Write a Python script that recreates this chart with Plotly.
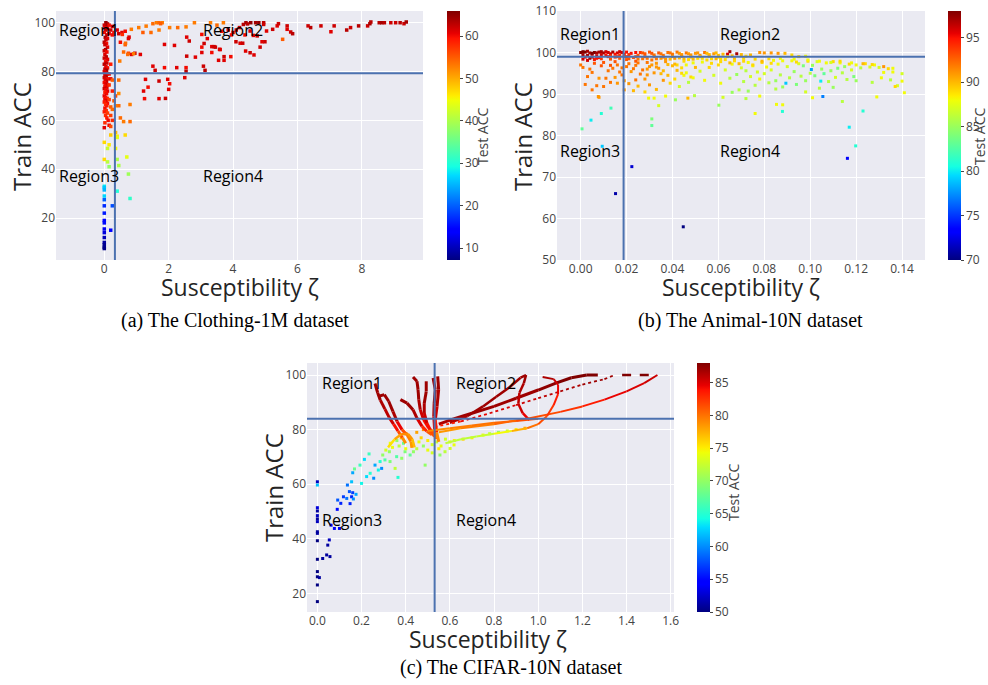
import plotly.graph_objects as go
from plotly.colors import sample_colorscale

# ---------------------------------------------------------------- data
# (susceptibility, train acc, test acc)
CLOTHING_COLUMN = [
    (0.05, 100, 65), (0.10, 99.5, 64), (0.00, 99, 62), (0.08, 98.5, 64), (0.02, 98, 61), (0.10, 97.5, 62),
    (0.04, 97, 63), (0.00, 96, 60), (0.08, 95, 62), (0.03, 94, 64), (0.10, 93.5, 61), (0.05, 93, 62),
    (0.00, 92, 63), (0.07, 91.5, 60), (0.02, 91, 62), (0.10, 90, 61), (0.04, 89, 64), (0.00, 88.5, 62),
    (0.08, 88, 60), (0.02, 87, 61), (0.06, 86, 63), (0.00, 85.5, 62), (0.10, 85, 61), (0.04, 84, 60),
    (0.08, 83.5, 62), (0.00, 83, 63), (0.05, 82, 61), (0.10, 81.5, 60), (0.02, 81, 62), (0.07, 80.5, 64),
    (0.00, 80, 61), (0.04, 79.5, 62), (0.09, 79, 60), (0.02, 78.5, 61), (0.06, 78, 63), (0.00, 77.5, 62),
    (0.10, 77, 60), (0.03, 76.5, 61), (0.07, 76, 62), (0.00, 75.5, 60), (0.05, 75, 61), (0.10, 74.5, 62),
    (0.02, 74, 60), (0.08, 73.5, 61), (0.00, 73, 62), (0.05, 72.5, 60), (0.10, 72, 61), (0.02, 71.5, 59),
    (0.07, 71, 60), (0.00, 70, 61), (0.04, 69.5, 60), (0.09, 69, 59), (0.02, 68.5, 60), (0.06, 68, 61),
    (0.00, 67.5, 59), (0.10, 67, 60), (0.04, 66.5, 58), (0.08, 66, 59), (0.02, 65, 60), (0.06, 64, 58),
    (0.00, 63.5, 59), (0.10, 63, 57), (0.04, 62, 58), (0.08, 61, 59), (0.12, 60, 60), (0.02, 59, 58),
    (0.15, 58, 60), (0.00, 57, 61),
]
CLOTHING_NEAR = [
    (0.15, 99, 60), (0.25, 98.5, 61), (0.20, 97, 62), (0.30, 96, 60), (0.15, 95.5, 61), (0.25, 95, 60),
    (0.45, 95.5, 62), (0.55, 96, 61), (0.65, 96.5, 60), (0.40, 97, 61), (0.75, 93.5, 61), (0.50, 92, 60),
    (0.65, 91, 55), (0.85, 87, 61), (0.95, 87.5, 62), (0.75, 87.5, 56), (0.60, 88, 54), (0.20, 83, 59),
    (0.15, 79, 60), (0.20, 77, 61), (0.25, 76.5, 55), (0.45, 76.5, 54), (0.15, 74.5, 58), (0.25, 72, 59),
    (0.35, 70, 56), (0.45, 71, 52), (0.15, 68.5, 57), (0.30, 68, 55), (0.45, 66, 54), (0.35, 66, 53),
    (0.20, 65.5, 55), (0.25, 64.5, 54), (0.20, 62, 57), (0.25, 60, 58), (0.50, 61, 54), (0.60, 59.5, 53),
    (0.80, 59.5, 54), (0.80, 66.5, 53), (0.20, 57.5, 56), (0.48, 84.3, 53), (0.56, 95.2, 58),
    (0.66, 91.6, 54), (0.73, 87, 54), (0.91, 87.3, 53), (0.77, 94.1, 61),
]
CLOTHING_LOW = [
    (0.00, 51, 47), (0.15, 50, 46), (0.20, 54, 48), (0.35, 55, 49), (0.40, 53.5, 46), (0.65, 54, 47),
    (0.35, 48.5, 45), (0.10, 48.5, 42), (0.00, 44, 47), (0.10, 43, 41), (0.40, 44, 40), (0.70, 45, 44),
    (0.15, 41, 38), (0.45, 41.5, 40), (0.75, 38, 39), (0.40, 53, 44),
    (0.00, 33, 28), (0.00, 32.5, 26), (0.00, 29, 27), (0.40, 31, 30), (0.80, 28, 31), (0.00, 27.5, 20),
    (0.00, 25, 17), (0.25, 25, 19), (0.00, 22, 16), (0.00, 19, 14), (0.00, 18, 15), (0.00, 15.5, 13),
    (0.00, 14, 12), (0.20, 15, 14), (0.00, 10, 9), (0.00, 9, 8), (0.00, 8, 8), (0.00, 7.5, 7.5),
    (0.00, 12, 10), (0.00, 31.5, 25),
]
CLOTHING_SPREAD = [
    (0.84, 97.3, 53), (1.07, 98, 53), (1.30, 98.6, 53), (1.51, 99.6, 54), (1.62, 100, 53), (1.70, 100, 54),
    (1.80, 100, 53), (1.75, 99.6, 55), (2.03, 98, 53), (2.28, 98, 54), (2.54, 98.3, 53), (2.80, 100, 53),
    (3.30, 100, 53), (3.70, 100, 53), (3.50, 99, 54), (1.20, 96, 55), (1.45, 96, 54), (1.70, 97, 53),
    (1.12, 87, 61), (1.51, 82.2, 61), (1.58, 80.5, 62), (1.87, 81.6, 60), (2.25, 81.6, 61), (2.54, 81.6, 60),
    (2.54, 80.1, 63), (1.28, 76.8, 61), (1.36, 73.6, 60), (1.22, 72, 61), (1.25, 68.9, 60), (1.70, 76.1, 62),
    (1.97, 76.8, 61), (2.03, 75, 60), (2.00, 72.7, 61), (1.90, 69, 62), (1.70, 68.9, 61), (1.87, 91.1, 61),
    (2.18, 90.7, 61), (2.56, 86.3, 62), (2.83, 85.9, 61), (3.03, 90, 60), (3.03, 87.8, 61), (2.64, 92.5, 62),
    (2.56, 94.1, 61), (3.03, 95.2, 60), (3.08, 82.2, 62), (3.13, 80.5, 63), (3.34, 90.2, 61), (3.41, 90.2, 62),
    (3.58, 89.1, 61), (3.34, 87.8, 60), (3.55, 84.6, 61), (3.72, 86.1, 62), (3.72, 84.6, 61), (3.93, 86.1, 60),
    (2.50, 77.5, 61), (4.09, 92.2, 62), (4.22, 91.6, 61), (4.30, 91.6, 62), (4.39, 88.4, 61), (4.53, 87.7, 62),
    (4.65, 86.8, 61), (4.84, 90, 62), (4.90, 92.2, 61), (4.99, 92.2, 62), (4.63, 94.8, 61), (4.75, 94.6, 62),
    (4.37, 95, 60), (4.53, 96.6, 61), (4.32, 99.3, 63), (4.40, 100, 64), (4.55, 100, 65), (4.70, 100, 64),
    (4.80, 100, 65), (4.95, 100, 63), (4.95, 99.3, 62), (5.04, 96.6, 61), (5.23, 97.3, 62), (5.37, 98.7, 61),
    (5.41, 99.6, 62), (5.54, 93.2, 55), (5.68, 98.7, 62), (5.68, 97.3, 61), (5.79, 96.2, 62), (5.85, 95.5, 63),
    (6.33, 98.7, 62), (6.41, 98, 63), (6.73, 98.7, 62), (7.04, 96.3, 61), (7.14, 98.7, 62), (7.53, 97, 63),
    (7.65, 98, 62), (7.90, 98.7, 63), (8.18, 98.7, 62), (8.25, 99.6, 64), (8.28, 100.3, 63), (8.54, 100, 63),
    (8.62, 100, 64), (8.70, 100, 63), (8.90, 100, 62), (9.05, 100, 62), (9.19, 100, 63), (9.31, 99.6, 62),
    (9.38, 100.3, 64), (3.20, 93.5, 61), (3.10, 91.5, 62), (3.60, 89, 61), (3.45, 90, 62), (3.85, 97, 61),
    (3.65, 96.5, 60), (4.00, 96, 61), (4.10, 97, 62), (3.95, 95, 60), (4.45, 99.5, 63), (4.20, 98, 62),
]

ANIMAL_TOP = [
    (0.000, 100.0, 98), (0.002, 100.1, 98), (0.004, 99.9, 97), (0.006, 100.0, 98), (0.008, 100.1, 97),
    (0.010, 99.9, 97), (0.012, 100.0, 96), (0.014, 100.1, 97), (0.016, 99.9, 96), (0.018, 100.0, 96),
    (0.001, 99.5, 97), (0.003, 99.3, 97), (0.005, 99.6, 96), (0.007, 99.2, 96), (0.009, 99.5, 96),
    (0.011, 99.4, 95), (0.002, 98.9, 96), (0.004, 98.6, 97), (0.006, 98.3, 95), (0.003, 98.1, 96),
    (0.008, 98.8, 95), (0.020, 100.1, 95), (0.022, 99.8, 95), (0.024, 100.0, 95), (0.065, 100.2, 97),
    (0.064, 99.6, 96), (0.068, 99.7, 97), (0.001, 100.2, 98), (0.003, 100.3, 97), (0.005, 99.8, 98),
    (0.007, 99.9, 97), (0.009, 100.2, 97), (0.011, 100.2, 96), (0.013, 99.7, 96), (0.015, 99.6, 95),
    (0.017, 100.2, 96), (0.019, 99.6, 95), (0.001, 98.4, 96), (0.005, 98.9, 97), (0.007, 98.6, 95),
    (0.013, 99.2, 94), (0.015, 98.9, 94), (0.017, 99.4, 94), (0.019, 99.1, 93), (0.021, 99.5, 94),
    (0.023, 98.8, 93), (0.025, 99.3, 93), (0.026, 100.0, 94), (0.028, 99.7, 93), (0.030, 100.1, 93),
    (0.032, 99.4, 92), (0.034, 99.9, 93), (0.036, 99.3, 92), (0.038, 100.0, 92), (0.040, 99.6, 92),
    (0.042, 100.1, 92), (0.044, 99.5, 91), (0.046, 99.9, 92), (0.048, 99.4, 91), (0.050, 99.8, 91),
    (0.052, 99.3, 91), (0.054, 100.0, 92), (0.056, 99.5, 90), (0.058, 99.7, 91), (0.060, 99.3, 90),
    (0.062, 99.6, 90), (0.066, 99.2, 90), (0.070, 99.5, 90), (0.072, 99.1, 89), (0.074, 99.4, 90),
    (0.078, 100.0, 91), (0.080, 99.9, 91), (0.083, 99.9, 91), (0.086, 99.8, 91), (0.089, 99.8, 90),
    (0.092, 99.4, 89), (0.095, 99.0, 89), (0.098, 99.1, 88),
    (0.027, 99.9, 93), (0.031, 99.8, 93), (0.035, 99.7, 92), (0.039, 99.9, 92), (0.043, 99.8, 91),
    (0.047, 99.7, 91), (0.051, 99.9, 91), (0.055, 99.8, 90), (0.059, 99.9, 90),
    (0.012, 99.0, 95), (0.016, 99.0, 94), (0.020, 99.0, 94), (0.024, 99.0, 93), (0.028, 99.0, 93),
    (0.032, 99.0, 92), (0.036, 98.9, 92), (0.040, 99.0, 91), (0.044, 99.1, 91), (0.048, 98.9, 90),
    (0.052, 99.0, 90), (0.056, 99.1, 90), (0.060, 98.9, 89), (0.064, 99.0, 89),
    (0.009, 98.5, 94), (0.013, 98.4, 93), (0.017, 98.6, 93), (0.021, 98.5, 93), (0.025, 98.4, 92),
    (0.029, 98.6, 92), (0.033, 98.5, 92), (0.037, 98.4, 91), (0.041, 98.6, 91), (0.045, 98.5, 90),
    (0.049, 98.4, 90), (0.053, 98.6, 89), (0.057, 98.5, 89), (0.061, 98.4, 89), (0.067, 98.5, 90),
    (0.071, 98.6, 89), (0.076, 98.4, 89), (0.082, 98.5, 89), (0.087, 98.6, 88), (0.093, 98.4, 88),
    (0.020, 98.3, 93), (0.024, 97.9, 93), (0.027, 98.5, 92), (0.029, 97.6, 92), (0.031, 98.2, 92),
    (0.033, 97.4, 91), (0.035, 98.6, 91), (0.037, 97.8, 91), (0.039, 98.4, 90), (0.041, 97.2, 90),
    (0.043, 98.7, 90), (0.045, 97.9, 89), (0.047, 98.3, 89), (0.049, 97.5, 88), (0.051, 98.6, 89),
    (0.053, 97.7, 88), (0.055, 98.2, 89), (0.057, 97.4, 89), (0.059, 98.5, 90), (0.061, 97.8, 89),
    (0.063, 98.3, 89), (0.065, 97.5, 90), (0.067, 98.0, 89), (0.069, 97.3, 90), (0.071, 97.9, 89),
    (0.073, 97.6, 88), (0.075, 97.0, 89), (0.079, 97.9, 90), (0.083, 97.4, 89), (0.088, 98.0, 88),
    (0.094, 97.7, 89), (0.099, 98.2, 88), (0.104, 97.9, 88), (0.109, 97.6, 87), (0.113, 97.9, 89),
    (0.118, 97.5, 88), (0.123, 97.3, 90), (0.127, 97.1, 89), (0.132, 96.6, 91), (0.136, 96.2, 88),
]
ANIMAL_MID = [
    (0.000, 97.0, 92), (0.001, 96.4, 92), (0.004, 96.0, 92), (0.006, 97.4, 93), (0.009, 96.8, 93),
    (0.005, 95.2, 92), (0.008, 93.8, 91), (0.012, 95.6, 92), (0.014, 96.2, 92), (0.016, 97.0, 92),
    (0.018, 94.6, 92), (0.020, 96.6, 92), (0.022, 95.4, 91), (0.024, 96.9, 92), (0.026, 94.8, 92),
    (0.028, 93.6, 91), (0.030, 96.6, 91), (0.032, 95.1, 91), (0.034, 96.2, 91), (0.036, 93.3, 91),
    (0.038, 94.5, 90), (0.040, 96.8, 90), (0.042, 95.7, 90), (0.044, 96.3, 89), (0.046, 95.1, 88),
    (0.048, 94.1, 89), (0.050, 96.4, 90), (0.002, 92.3, 92), (0.005, 91.0, 92), (0.010, 91.8, 92),
    (0.013, 92.8, 92), (0.016, 92.6, 91), (0.019, 91.0, 91), (0.021, 92.5, 91), (0.023, 90.8, 90),
    (0.025, 91.9, 90), (0.028, 90.5, 89), (0.030, 92.2, 91), (0.033, 91.1, 90), (0.011, 93.8, 92),
    (0.015, 94.0, 91), (0.019, 93.2, 91), (0.024, 93.4, 92), (0.027, 95.8, 92), (0.035, 94.9, 90),
    (0.039, 92.6, 89), (0.032, 89.0, 88), (0.037, 89.5, 88), (0.034, 87.2, 87), (0.008, 89.2, 91),
    (0.003, 94.2, 92), (0.007, 92.0, 92), (0.017, 95.3, 92), (0.029, 94.6, 91), (0.041, 93.6, 89),
    (0.043, 91.8, 87), (0.045, 94.5, 88), (0.047, 92.8, 86), (0.049, 93.9, 88),
    (0.010, 97.6, 93), (0.013, 96.9, 93), (0.015, 97.8, 93), (0.021, 97.3, 92), (0.023, 96.1, 92),
    (0.025, 97.5, 92), (0.018, 96.3, 92), (0.029, 96.0, 91), (0.031, 97.0, 91), (0.033, 96.5, 91),
    (0.036, 95.6, 90), (0.038, 97.1, 90), (0.042, 97.0, 89), (0.044, 95.0, 89), (0.046, 97.0, 88),
    (0.052, 95.5, 87), (0.054, 93.3, 88), (0.056, 96.4, 89), (0.058, 94.5, 87), (0.060, 97.0, 89),
    (0.061, 92.6, 88), (0.063, 95.8, 87), (0.065, 93.8, 86), (0.066, 97.2, 88), (0.068, 94.7, 85),
    (0.069, 91.0, 86), (0.070, 96.3, 87), (0.071, 93.0, 86), (0.072, 95.6, 86), (0.073, 90.7, 85),
    (0.074, 94.2, 87), (0.075, 96.8, 88), (0.076, 92.1, 86), (0.077, 95.3, 87), (0.078, 93.6, 88),
    (0.079, 97.6, 89), (0.080, 94.9, 87), (0.081, 96.5, 88), (0.082, 92.7, 86), (0.083, 95.8, 87),
    (0.084, 98.1, 88), (0.085, 93.2, 85), (0.086, 97.2, 88), (0.087, 94.6, 86), (0.088, 91.7, 85),
    (0.090, 96.6, 87), (0.091, 93.9, 86), (0.092, 98.0, 88), (0.093, 95.4, 85), (0.094, 92.3, 84),
    (0.095, 97.3, 87), (0.096, 94.3, 86), (0.097, 96.8, 84), (0.098, 93.2, 85), (0.099, 97.9, 89),
    (0.100, 95.0, 86), (0.101, 96.9, 85), (0.102, 94.4, 84), (0.103, 97.8, 87), (0.104, 91.4, 86),
    (0.105, 96.0, 85), (0.106, 94.9, 83), (0.107, 97.5, 88), (0.108, 93.0, 86), (0.109, 95.6, 85),
    (0.110, 97.8, 89), (0.111, 94.0, 87), (0.112, 96.2, 84), (0.113, 97.5, 88), (0.114, 95.1, 86),
    (0.115, 96.6, 85), (0.116, 93.5, 86), (0.117, 97.2, 89), (0.118, 95.8, 87), (0.119, 94.2, 84),
    (0.120, 97.0, 88), (0.122, 96.3, 86), (0.124, 97.3, 89), (0.126, 96.5, 87), (0.128, 97.0, 88),
    (0.130, 96.4, 87), (0.132, 95.2, 88), (0.134, 96.1, 89), (0.136, 95.3, 88), (0.138, 92.0, 87),
    (0.140, 94.9, 87), (0.141, 90.3, 88), (0.127, 92.8, 86), (0.110, 91.6, 85), (0.098, 90.5, 87),
    (0.085, 91.2, 86), (0.078, 89.5, 88), (0.072, 88.9, 86), (0.066, 90.4, 85), (0.062, 89.2, 87),
    (0.076, 85.3, 88), (0.101, 89.1, 88), (0.114, 88.2, 86), (0.088, 87.4, 88), (0.120, 93.2, 85),
    (0.131, 93.9, 88), (0.129, 89.3, 88), (0.140, 93.1, 88), (0.135, 93.4, 86), (0.137, 91.8, 89),
]
ANIMAL_OUTLIERS = [
    (0.0006, 81.6, 83), (0.0045, 83.7, 80), (0.009, 85.3, 81), (0.0132, 86.6, 82), (0.0094, 77.4, 79),
    (0.0152, 66.0, 71), (0.0223, 72.5, 72), (0.0447, 58.0, 70), (0.031, 84.0, 84), (0.031, 82.4, 83),
    (0.0879, 85.8, 81), (0.1162, 74.5, 73), (0.117, 82.0, 80), (0.1198, 77.5, 81), (0.123, 85.9, 81),
    (0.1055, 89.4, 77), (0.1005, 95.9, 78), (0.0894, 92.6, 79), (0.1046, 93.1, 80), (0.0853, 87.5, 88),
    (0.0602, 87.3, 85), (0.0467, 89.0, 90), (0.0496, 89.6, 86), (0.0413, 88.6, 85), (0.0296, 89.0, 88),
    (0.0077, 89.4, 91),
]

CIFAR_POINTS = [
    (0.0, 60.9, 52), (0.0, 59.7, 62), (0.0, 51.4, 53), (0.0, 50.2, 51), (0.0, 48.5, 52), (0.0, 47.3, 51),
    (0.0, 46.3, 52), (0.0, 42.6, 51), (0.0, 42.0, 51), (0.0, 39.3, 50), (0.0, 32.5, 50), (0.0, 28.0, 50),
    (0.0, 26.1, 50), (0.0, 23.1, 50), (0.0, 17.0, 50), (0.009, 25.8, 51), (0.024, 32.8, 51),
    (0.042, 34.1, 51), (0.057, 33.5, 51), (0.047, 37.7, 51), (0.054, 39.6, 52), (0.062, 45.0, 54),
    (0.077, 43.8, 54), (0.100, 43.8, 54), (0.090, 50.8, 55), (0.106, 53.0, 56), (0.092, 54.2, 58),
    (0.118, 55.4, 57), (0.133, 54.8, 59), (0.148, 52.9, 56), (0.145, 57.3, 58), (0.160, 56.9, 57),
    (0.155, 55.4, 56), (0.163, 54.6, 60), (0.175, 56.3, 61), (0.136, 59.7, 59), (0.155, 60.9, 62),
    (0.160, 64.2, 61), (0.168, 65.6, 68), (0.193, 67.0, 66), (0.213, 69.1, 63), (0.234, 71.1, 66),
    (0.200, 60.3, 64), (0.223, 62.8, 63), (0.239, 64.0, 65), (0.255, 62.2, 60), (0.261, 67.0, 61),
    (0.284, 68.3, 65), (0.291, 65.8, 60), (0.276, 65.2, 64), (0.296, 70.7, 70), (0.306, 68.9, 67),
    (0.326, 71.9, 70), (0.329, 68.3, 69), (0.359, 70.1, 67), (0.365, 62.5, 65), (0.352, 65.8, 72),
    (0.382, 69.5, 70), (0.397, 71.9, 69), (0.420, 70.7, 68), (0.435, 71.9, 70), (0.488, 67.0, 70),
    (0.555, 70.7, 70), (0.578, 71.9, 72), (0.601, 73.1, 73), (0.619, 74.4, 74), (0.310, 72.5, 73),
    (0.340, 73.5, 74), (0.370, 74.0, 72), (0.400, 73.0, 74), (0.430, 74.5, 73), (0.460, 75.5, 74),
    (0.500, 76.0, 75), (0.520, 74.5, 73), (0.540, 75.5, 72), (0.560, 74.0, 74), (0.580, 76.5, 73),
    (0.360, 76.0, 70), (0.390, 75.0, 68), (0.420, 76.5, 73), (0.450, 73.0, 72), (0.480, 74.0, 70),
    (0.500, 72.5, 74), (0.520, 71.5, 73), (0.550, 73.0, 75), (0.600, 75.5, 74), (0.620, 76.0, 75),
    (0.660, 76.5, 76), (0.700, 77.0, 75), (0.750, 78.0, 74), (0.780, 78.5, 72), (0.820, 79.0, 70),
    (0.860, 79.5, 72), (0.900, 80.0, 75), (0.940, 80.5, 78), (0.450, 79.0, 78), (0.480, 80.0, 79),
    (0.510, 79.5, 78), (0.470, 77.0, 76), (0.400, 78.5, 78), (0.380, 77.0, 77), (0.330, 75.0, 74),
]
# training trajectories drawn as connected runs
CIFAR_PATHS = {
    "a": [(0.261, 96.9, 87), (0.273, 93.5, 87), (0.285, 90.8, 87), (0.306, 87.5, 86), (0.325, 84.5, 86),
          (0.345, 82.0, 85), (0.365, 79.5, 83), (0.385, 77.0, 80), (0.400, 75.0, 78)],
    "b": [(0.278, 92.2, 87), (0.303, 92.8, 87), (0.323, 90.4, 87), (0.342, 86.7, 87), (0.361, 83.0, 86),
          (0.383, 80.0, 83), (0.406, 78.1, 80), (0.424, 75.7, 79), (0.428, 73.3, 78)],
    "c": [(0.376, 91.0, 87), (0.406, 89.7, 87), (0.433, 87.3, 87), (0.451, 84.2, 86), (0.474, 81.2, 84),
          (0.496, 79.4, 82), (0.519, 78.1, 80)],
    "d": [(0.433, 99.3, 87), (0.451, 97.7, 87), (0.456, 94.6, 87), (0.459, 91.0, 87), (0.466, 87.3, 86),
          (0.481, 83.6, 85), (0.504, 80.6, 83), (0.527, 78.8, 81)],
    "e": [(0.493, 97.7, 87), (0.493, 94.0, 87), (0.484, 89.7, 87), (0.484, 86.1, 86), (0.496, 82.4, 85),
          (0.514, 79.4, 83), (0.530, 77.5, 80)],
    "f": [(0.524, 98.9, 87), (0.534, 94.6, 87), (0.529, 89.7, 87), (0.527, 84.9, 86), (0.531, 80.0, 84),
          (0.535, 76.5, 78)],
    "g": [(0.545, 99.5, 87), (0.549, 94.6, 87), (0.542, 88.5, 86), (0.534, 83.6, 85), (0.540, 79.0, 82),
          (0.550, 75.5, 76)],
    "h": [(0.320, 73.5, 74), (0.350, 76.5, 77), (0.380, 78.3, 79), (0.410, 78.5, 79), (0.430, 76.5, 78),
          (0.440, 73.5, 76)],
    "upper": [(0.55, 82.0, 86), (0.62, 84.0, 87), (0.70, 86.0, 87), (0.80, 88.5, 87), (0.90, 91.5, 87),
              (1.00, 94.5, 87), (1.08, 97.0, 88), (1.15, 99.0, 88), (1.22, 100.0, 88), (1.27, 100.0, 88)],
    "loop": [(0.60, 82.5, 86), (0.68, 85.0, 87), (0.75, 88.5, 87), (0.81, 92.0, 87), (0.87, 95.5, 87),
             (0.92, 99.0, 87), (0.945, 100.0, 87), (0.935, 97.0, 87), (0.915, 93.5, 86), (0.91, 89.5, 86),
             (0.93, 86.0, 85), (0.96, 83.5, 84)],
    "thin": [(0.53, 81.0, 83), (0.65, 83.0, 84), (0.78, 86.0, 85), (0.90, 89.0, 85), (1.00, 91.5, 86),
             (1.10, 94.0, 86), (1.20, 96.5, 87), (1.30, 98.5, 87), (1.34, 99.8, 87)],
    "long": [(0.55, 79.0, 78), (0.65, 80.5, 79), (0.80, 82.0, 80), (0.95, 84.0, 81), (1.10, 86.5, 82),
             (1.20, 88.5, 83), (1.30, 91.0, 84), (1.40, 94.0, 85), (1.48, 97.0, 85), (1.54, 100.0, 86)],
    "cap": [(1.38, 100.0, 88), (1.46, 100.0, 88), (1.54, 100.0, 88)],
    "low": [(0.58, 75.0, 72), (0.65, 76.5, 72), (0.72, 77.5, 72), (0.80, 78.5, 73), (0.88, 79.5, 76),
            (0.95, 80.5, 79), (1.00, 82.0, 81), (1.04, 85.0, 82), (1.07, 89.0, 83), (1.09, 93.0, 84),
            (1.09, 96.5, 85), (1.07, 98.5, 86), (1.02, 99.3, 87)],
    "mid": [(0.50, 79.5, 79), (0.60, 80.5, 79), (0.70, 81.5, 80), (0.80, 82.5, 80), (0.90, 83.2, 81),
            (1.00, 84.0, 82)],
}

# region thresholds (susceptibility, train acc)
CLOTHING_SPLIT = (0.33, 79.3)
ANIMAL_SPLIT = (0.0187, 99.0)
CIFAR_SPLIT = (0.531, 84.0)

# test-acc colour ranges
CLOTHING_CRANGE = (7.2, 65.9)
ANIMAL_CRANGE = (70, 98)
CIFAR_CRANGE = (50, 88)

# ---------------------------------------------------------------- styling
JET = [
    [0.0, "rgb(0,0,128)"], [0.11, "rgb(0,0,255)"], [0.125, "rgb(0,0,255)"],
    [0.34, "rgb(0,219,255)"], [0.375, "rgb(21,255,226)"], [0.5, "rgb(124,255,121)"],
    [0.64, "rgb(239,255,8)"], [0.66, "rgb(255,236,0)"], [0.89, "rgb(255,19,0)"],
    [0.91, "rgb(232,0,0)"], [1.0, "rgb(128,0,0)"],
]
PATH_WIDTH = {"a": 3, "b": 3, "c": 3, "d": 3, "e": 3, "f": 3, "g": 3, "h": 2.5,
              "upper": 3, "loop": 2.5, "thin": 1.8, "long": 2, "cap": 2.5, "low": 2, "mid": 2}
PATH_DASH = {"thin": "dot", "cap": "dash"}

FONT = "Open Sans"
TICK_FONT = dict(family=FONT, size=12, color="rgb(68,68,68)")
LINE_BLUE = "rgb(76,114,176)"
W, H = 988, 685

# panel pixel boxes: left, right, top, bottom
PANELS = {
    "1": (56, 423, 11, 260),
    "2": (557, 925, 11, 260),
    "3": (307, 674, 363, 612),
}
# colour bar left edges and their title centres (x, y)
CBAR_LEFT = {"1": 447, "2": 948, "3": 697}
CBAR_TITLE = {"1": (482, 136), "2": (979, 136), "3": (733, 492)}


def cols(pts):
    return [p[0] for p in pts], [p[1] for p in pts], [p[2] for p in pts]


def colorbar(key, dtick):
    left, right, top, bottom = PANELS[key]
    return dict(
        x=CBAR_LEFT[key] / W, xanchor="left", y=1 - (top + bottom) / 2 / H, yanchor="middle",
        len=bottom - top, lenmode="pixels", thickness=13, thicknessmode="pixels",
        outlinewidth=0, ticks="outside", ticklen=3, tickcolor="rgb(68,68,68)",
        tickfont=TICK_FONT, dtick=dtick, xpad=0, ypad=0,
    )


fig = go.Figure()


def add_points(pts, axis, crange, cbar, size):
    x, y, c = cols(pts)
    marker = dict(color=c, colorscale=JET, cmin=crange[0], cmax=crange[1], size=size,
                  symbol="square", line=dict(width=0), colorbar=cbar, showscale=True)
    sx = "" if axis == "1" else axis
    fig.add_trace(go.Scatter(x=x, y=y, mode="markers", marker=marker, showlegend=False,
                             xaxis="x" + sx, yaxis="y" + sx))


# Clothing-1M
add_points(CLOTHING_COLUMN + CLOTHING_NEAR + CLOTHING_LOW + CLOTHING_SPREAD, "1", CLOTHING_CRANGE,
           colorbar("1", 10), 3.5)
# Animal-10N
add_points(ANIMAL_MID + ANIMAL_TOP + ANIMAL_OUTLIERS, "2", ANIMAL_CRANGE, colorbar("2", 5), 3)
# CIFAR-10N
add_points(CIFAR_POINTS, "3", CIFAR_CRANGE, colorbar("3", 5), 3)

lo, hi = CIFAR_CRANGE
for name, pts in CIFAR_PATHS.items():
    for p, q in zip(pts[:-1], pts[1:]):
        t = min(max(((p[2] + q[2]) / 2 - lo) / (hi - lo), 0), 1)
        col = sample_colorscale(JET, [t])[0]
        fig.add_trace(go.Scatter(x=[p[0], q[0]], y=[p[1], q[1]], mode="lines", showlegend=False,
                                 line=dict(color=col, width=PATH_WIDTH[name],
                                           dash=PATH_DASH.get(name, "solid")),
                                 xaxis="x3", yaxis="y3", hoverinfo="skip"))


def axis_dom(box):
    left, right, top, bottom = box
    return [left / W, right / W], [1 - bottom / H, 1 - top / H]


def ax(domain, rng, dtick, fmt=None, anchor=None):
    d = dict(domain=domain, range=rng, dtick=dtick, showgrid=True, gridcolor="white", gridwidth=1,
             zeroline=False, showline=False, ticks="", tickfont=TICK_FONT, anchor=anchor,
             automargin=False)
    if fmt:
        d["tickformat"] = fmt
    return d


layout_axes = {}
ranges = {
    "1": dict(x=([-1.5, 9.9], 2, None), y=([2.8, 104.8], 20, None)),
    "2": dict(x=([-0.0103, 0.15], 0.02, ".2f"), y=([50, 110], 10, None)),
    "3": dict(x=([-0.047, 1.615], 0.2, ".1f"), y=([13.2, 104.4], 20, None)),
}
for k, box in PANELS.items():
    xd, yd = axis_dom(box)
    sx = "" if k == "1" else k
    xr, xdt, xf = ranges[k]["x"]
    yr, ydt, yf = ranges[k]["y"]
    layout_axes["xaxis" + sx] = ax(xd, xr, xdt, xf, anchor="y" + sx)
    layout_axes["yaxis" + sx] = ax(yd, yr, ydt, yf, anchor="x" + sx)

shapes = []
for k, split in (("1", CLOTHING_SPLIT), ("2", ANIMAL_SPLIT), ("3", CIFAR_SPLIT)):
    sx = "" if k == "1" else k
    shapes.append(dict(type="line", xref="x" + sx, yref="y" + sx + " domain", x0=split[0], x1=split[0],
                       y0=0, y1=1, line=dict(color=LINE_BLUE, width=2)))
    shapes.append(dict(type="line", xref="x" + sx + " domain", yref="y" + sx, x0=0, x1=1,
                       y0=split[1], y1=split[1], line=dict(color=LINE_BLUE, width=2)))

annotations = []
REGION_POS = {
    "1": ((-1.47, 3.0), (97.2, 37.2)),
    "2": ((-0.0098, 0.06), (104.5, 76.3)),
    "3": ((0.01, 0.62), (97.0, 47.0)),
}
for k, ((xl, xr2), (yt, yb)) in REGION_POS.items():
    sx = "" if k == "1" else k
    for text, xx, yy in (("Region1", xl, yt), ("Region2", xr2, yt), ("Region3", xl, yb), ("Region4", xr2, yb)):
        annotations.append(dict(text=text, x=xx, y=yy, xref="x" + sx, yref="y" + sx, xanchor="left",
                                yanchor="middle", showarrow=False,
                                font=dict(family=FONT, size=16, color="black")))

TITLE_FONT = dict(family=FONT, size=24, color="rgb(36,36,36)")
XTITLE_FONT = dict(family=FONT, size=23, color="rgb(36,36,36)")
for xc, yc in ((240, 287), (741, 287), (488, 639)):
    annotations.append(dict(text="Susceptibility ζ", x=xc / W, y=1 - yc / H, xref="paper", yref="paper",
                            xanchor="center", yanchor="middle", showarrow=False, font=XTITLE_FONT,
                            borderpad=0))
for xc, yc in ((22, 137), (523, 137), (273, 488)):
    annotations.append(dict(text="Train ACC", x=xc / W, y=1 - yc / H, xref="paper", yref="paper",
                            xanchor="center", yanchor="middle", showarrow=False, font=TITLE_FONT,
                            textangle=-90))
for xc, yc in CBAR_TITLE.values():
    annotations.append(dict(text="Test ACC", x=xc / W, y=1 - yc / H, xref="paper", yref="paper",
                            xanchor="center", yanchor="middle", showarrow=False, textangle=-90,
                            font=dict(family=FONT, size=14, color="rgb(68,68,68)")))

CAP_FONT = dict(family="Liberation Serif", size=20, color="black")
for text, xc, yc in (("(a) The Clothing-1M dataset", 235, 320),
                     ("(b) The Animal-10N dataset", 750, 320),
                     ("(c) The CIFAR-10N dataset", 511, 667)):
    annotations.append(dict(text=text, x=xc / W, y=1 - yc / H, xref="paper", yref="paper",
                            xanchor="center", yanchor="middle", showarrow=False, font=CAP_FONT))

fig.update_layout(
    width=W, height=H, margin=dict(l=0, r=0, t=0, b=0, autoexpand=False),
    paper_bgcolor="white", plot_bgcolor="rgb(234,234,242)",
    font=dict(family=FONT, color="rgb(68,68,68)"),
    showlegend=False, shapes=shapes, annotations=annotations, **layout_axes,
)

fig.write_html("out.html")
